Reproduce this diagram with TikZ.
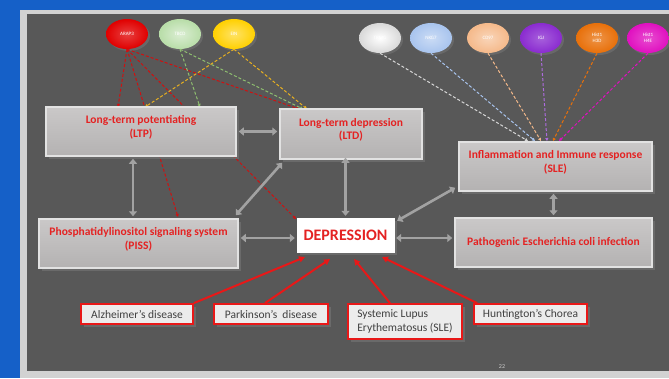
\documentclass[tikz,border=0pt]{standalone}
\usepackage{fontspec}
\setmainfont{Carlito}
\usetikzlibrary{arrows.meta,shadows,shapes.geometric,calc}
\definecolor{bgblue}{HTML}{1560C8}
\definecolor{framegray}{HTML}{D2D2D2}
\definecolor{panel}{HTML}{585858}
\definecolor{boxtop}{HTML}{CAC8C8}
\definecolor{boxbot}{HTML}{B4B2B2}
\definecolor{boxedge}{HTML}{E2E2E2}
\definecolor{boxtxt}{HTML}{E42222}
\definecolor{arrgray}{HTML}{A2A2A2}
\definecolor{dred}{HTML}{D01010}
\definecolor{lred}{HTML}{E81818}
\definecolor{dgreen}{HTML}{8FBF70}
\definecolor{dyellow}{HTML}{E8B020}
\definecolor{gwhite}{HTML}{D8D8D8}
\definecolor{gblue}{HTML}{A8C4EE}
\definecolor{gpeach}{HTML}{F5B98A}
\definecolor{gpurple}{HTML}{8A2BD0}
\definecolor{gorange}{HTML}{E8700A}
\definecolor{gmagenta}{HTML}{E010C0}
\definecolor{gred}{HTML}{E00000}
\definecolor{ggreen}{HTML}{B8DDA8}
\definecolor{gyellow}{HTML}{FFD000}
\tikzset{
  mainbox/.style={rectangle, top color=boxtop, bottom color=boxbot, draw=boxedge,
    line width=1.5pt, text=boxtxt, align=center,
    font=\fontsize{11.5}{13.5}\selectfont\bfseries,
    drop shadow={opacity=0.45, shadow xshift=3pt, shadow yshift=-3pt}},
  depbox/.style={rectangle, fill=white, draw=white, text=boxtxt, align=center,
    font=\fontsize{16}{18}\selectfont\bfseries, minimum width=97, minimum height=34,
    drop shadow={opacity=0.45, shadow xshift=3pt, shadow yshift=-3pt}},
  disbox/.style={rectangle, fill=white!85!gray, draw=lred, line width=1.8pt,
    text=black!75, align=left, font=\fontsize{11.5}{13.5}\selectfont, inner sep=3pt,
    drop shadow={opacity=0.45, shadow xshift=3pt, shadow yshift=-3pt}},
  gene/.style={ellipse, minimum width=42, minimum height=30, inner sep=0pt,
    text=white, align=center, font=\fontsize{5}{5.5}\selectfont,
    drop shadow={opacity=0.4, shadow xshift=2pt, shadow yshift=-2pt}},
  garrow/.style={arrgray, line width=2.6pt, {Triangle[length=5pt,width=8pt]}-{Triangle[length=5pt,width=8pt]}},
  dashlink/.style={dashed, line width=1pt, dash pattern=on 3pt off 2pt, -{Triangle[length=3pt,width=3pt]}},
  redlink/.style={lred, line width=2pt, -{Triangle[length=6pt,width=6pt]}}
}
\begin{document}
\begin{tikzpicture}[x=1pt,y=-1pt]
\useasboundingbox (0,0) rectangle (669,378);
\fill[bgblue] (0,0) rectangle (669,378);
\fill[framegray] (20,10) rectangle (669,378);
\fill[panel] (27,14) rectangle (669,371);

% gene ellipses
\node[gene, inner color=gred!75!white, outer color=gred] (arap) at (127,34) {ARAP3};
\node[gene, inner color=ggreen!50!white, outer color=ggreen] (tbcd) at (180,34) {TBCD};
\node[gene, inner color=gyellow!60!white, outer color=gyellow] (ein) at (234,34) {EIN};
\node[gene, inner color=white, outer color=gwhite] (trmg) at (380,38) {TRMG};
\node[gene, inner color=gblue!60!white, outer color=gblue] (nkg) at (431,38) {NKG7};
\node[gene, inner color=gpeach!60!white, outer color=gpeach] (cd) at (488,38) {CD97};
\node[gene, inner color=gpurple!75!white, outer color=gpurple] (igj) at (541,38) {IGJ};
\node[gene, inner color=gorange!75!white, outer color=gorange] (h3d) at (597,38) {Hist1\\H3D};
\node[gene, inner color=gmagenta!75!white, outer color=gmagenta] (h4e) at (648,38) {Hist1\\H4E};

% anchor coordinates on boxes
\coordinate (ltpA) at (118,107);
\coordinate (ltpB) at (145,107);
\coordinate (ltpC) at (200,107);
\coordinate (ltdA) at (299,109);
\coordinate (ltdB) at (303,109);
\coordinate (ltdC) at (307,109);
\coordinate (pissA) at (178,217);
\coordinate (depA) at (296,219);
\coordinate (inA) at (528,141);
\coordinate (inB) at (535,141);
\coordinate (inC) at (541,141);
\coordinate (inD) at (547,141);
\coordinate (inE) at (553,141);
\coordinate (inF) at (559,141);

% dashed regulator links (drawn under boxes)
\draw[dashlink, dred] (arap.south) -- (ltpA);
\draw[dashlink, dred] (arap.south) -- (ltdA);
\draw[dashlink, dred] (arap.south) -- (pissA);
\draw[dashlink, dred] (arap.south) -- (depA);
\draw[dashlink, dgreen] (tbcd.south) -- (ltpC);
\draw[dashlink, dgreen] (tbcd.south) -- (ltdB);
\draw[dashlink, dyellow] (ein.south) -- (ltpB);
\draw[dashlink, dyellow] (ein.south) -- (ltdC);
\draw[dashlink, gwhite] (trmg.south) -- (inA);
\draw[dashlink, gblue] (nkg.south) -- (inB);
\draw[dashlink, gpeach] (cd.south) -- (inC);
\draw[dashlink, gpurple!70!white] (igj.south) -- (inD);
\draw[dashlink, gorange] (h3d.south) -- (inE);
\draw[dashlink, gmagenta] (h4e.south) -- (inF);

% main boxes
\node[mainbox, minimum width=190, minimum height=49] (ltp) at (141,131.5) {Long-term potentiating\\(LTP)\\[-3pt]\mbox{}};
\node[mainbox, minimum width=142, minimum height=50] (ltd) at (351,134) {Long-term depression\\(LTD)\\[-3pt]\mbox{}};
\node[mainbox, minimum width=193, minimum height=49] (infl) at (555.5,166.5) {Inflammation and Immune response\\(SLE)\\[-3pt]\mbox{}};
\node[mainbox, minimum width=199, minimum height=49] (piss) at (138.5,243.5) {Phosphatidylinositol signaling system\\(PISS)\\[-3pt]\mbox{}};
\node[mainbox, minimum width=197, minimum height=49] (path) at (553.5,242.5) {Pathogenic Escherichia coli infection};
\node[depbox] (dep) at (345.5,235) {DEPRESSION};

% disease boxes
\node[disbox, minimum width=112, minimum height=20] (alz) at (137,314) {Alzheimer’s disease};
\node[disbox, minimum width=114, minimum height=20] (park) at (271,314) {Parkinson’s\ \ disease};
\node[disbox, minimum width=114, minimum height=35] (sle) at (405,321.5) {Systemic Lupus\\Erythematosus (SLE)};
\node[disbox, minimum width=113, minimum height=20] (hunt) at (530.5,314) {Huntington’s Chorea};

% gray double arrows
\draw[garrow] ([xshift=2pt]ltp.east) -- ([xshift=-2pt]ltp.east -| ltd.west);
\draw[garrow] ([xshift=-8pt,yshift=-2pt]ltp.south) -- ([xshift=-8pt,yshift=2pt]ltp.south |- piss.north);
\draw[garrow] ([yshift=2pt]dep.north |- ltd.south) -- ([yshift=2pt]dep.north);
\draw[garrow] ($(ltd.south west)+(3,3)$) -- ($(piss.north east)+(-3,-3)$);
\draw[garrow] ($(infl.south west)+(-3,-4)$) -- ($(dep.north east)+(3,3)$);
\draw[garrow] ([xshift=2pt,yshift=-3pt]piss.east |- dep.west) -- ([xshift=-2pt,yshift=-3pt]dep.west);
\draw[garrow] ([xshift=2pt,yshift=-3pt]dep.east) -- ([xshift=-2pt,yshift=-3pt]dep.east -| path.west);
\draw[garrow] ([yshift=-2pt]path.north |- infl.south) -- ([yshift=2pt]path.north);

% red disease links
\coordinate (dA) at (305,257);
\coordinate (dB) at (330,259);
\coordinate (dC) at (354,259);
\coordinate (dD) at (382,257);
\draw[redlink] (alz.north east) -- (dA);
\draw[redlink] ($(park.north)+(-6,0)$) -- (dB);
\draw[redlink] ($(sle.north)+(-15,0)$) -- (dC);
\draw[redlink] ($(hunt.north west)+(4,0)$) -- (dD);

\node[text=white!60!gray, font=\fontsize{6}{7}\selectfont] (pg) at (502,367) {22};
\end{tikzpicture}
\end{document}
